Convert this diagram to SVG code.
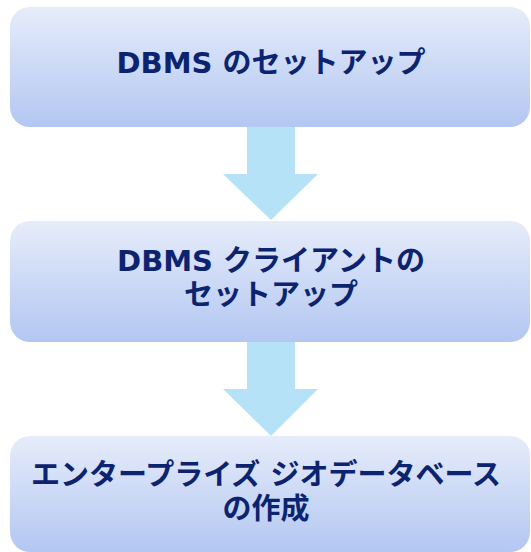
<svg xmlns="http://www.w3.org/2000/svg" width="531" height="552" viewBox="0 0 531 552">
<defs>
<linearGradient id="g" x1="0" y1="0" x2="0" y2="1">
<stop offset="0" stop-color="#e6ecfa"/>
<stop offset="1" stop-color="#b3c7f2"/>
</linearGradient>
<style>
.box{fill:url(#g);}
.t{font-family:"DejaVu Sans","Noto Sans CJK JP",sans-serif;font-weight:bold;font-size:29px;fill:#0c2470;text-anchor:middle;}
.arr{fill:#b5e2f6;}
</style>
</defs>
<g id="connectors">
<path class="arr" d="M247 127 H295 V174 H318 L271 220 L223 174 H247 Z"/>
<path class="arr" d="M247 342 H295 V389 H318 L271 436 L223 389 H247 Z"/>
</g>
<g id="node1">
<rect class="box" x="10" y="7" width="520" height="120" rx="20"/>
<text class="t" x="271" y="73">DBMS のセットアップ</text>
</g>
<g id="node2">
<rect class="box" x="10" y="221" width="520" height="121" rx="20"/>
<text class="t" x="271" y="271">DBMS クライアントの</text>
<text class="t" x="271" y="305">セットアップ</text>
</g>
<g id="node3">
<rect class="box" x="10" y="436" width="520" height="116" rx="20"/>
<text class="t" x="266" y="485">エンタープライズ ジオデータベース</text>
<text class="t" x="266" y="519">の作成</text>
</g>
</svg>
